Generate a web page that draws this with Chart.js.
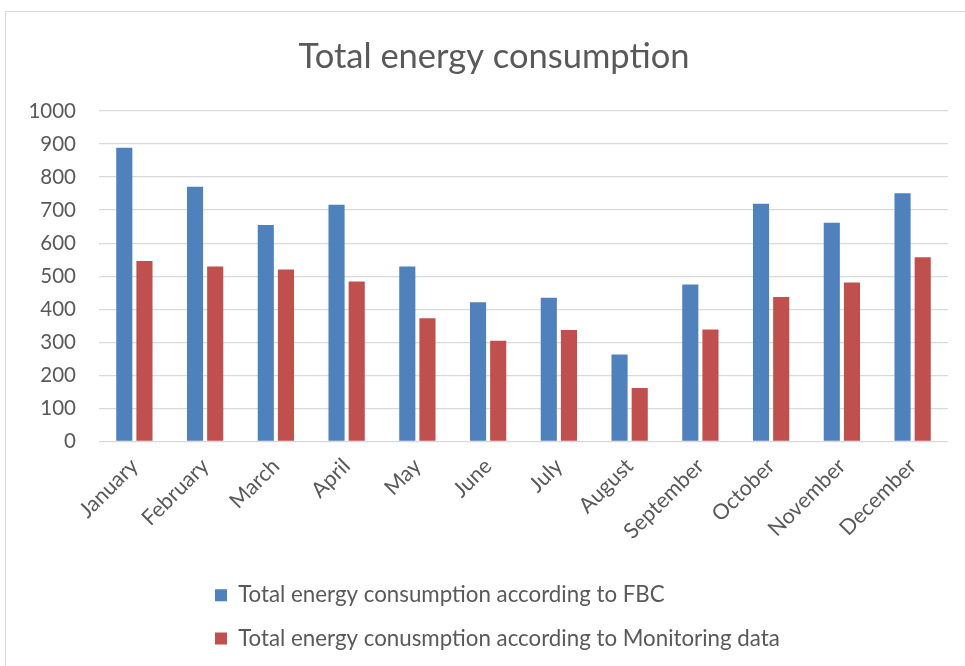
<!DOCTYPE html>
<html>
<head>
<meta charset="utf-8">
<script src="https://cdn.jsdelivr.net/npm/chart.js@4/dist/chart.umd.min.js"></script>
<style>
  html, body { margin: 0; padding: 0; background: #fff; }
  #frame { position: absolute; left: 5px; top: 11px; width: 1000px; height: 700px; border-left: 1.5px solid #d9d9d9; border-top: 1.5px solid #d9d9d9; }
  #wrap { position: absolute; left: 0; top: 0; width: 965px; height: 666px; }
</style>
</head>
<body>
<div id="frame"></div>
<div id="wrap"><canvas id="c" width="965" height="666"></canvas></div>
<script>
const categories = ["January","February","March","April","May","June","July","August","September","October","November","December"];
const fbcValues = [889, 771, 655, 716, 529, 421, 435, 263, 475, 719, 662, 751];
const monitoringValues = [546, 529, 520, 484, 373, 305, 337, 162, 339, 437, 481, 557];
const seriesNames = ["Total energy consumption according to FBC", "Total energy conusmption according to Monitoring data"];
const yTicks = [0,100,200,300,400,500,600,700,800,900,1000];

const FONT = "Lato, 'Open Sans', sans-serif";
const TXT = "#595959";

const blockPlace = {
  id: 'blockPlace',
  afterLayout(chart) {
    const lg = chart.legend;
    if (lg) {
      const dy = 563 - lg.top;
      lg.left = 194;
      lg.top += dy;
      lg.bottom += dy;
    }
    const tb = chart.titleBlock;
    if (tb) {
      tb.left += 20;
      tb.right += 20;
    }
  }
};

new Chart(document.getElementById('c'), {
  type: 'bar',
  data: {
    labels: categories,
    datasets: [
      { label: seriesNames[0], data: fbcValues, backgroundColor: '#4F81BD', borderWidth: 0 },
      { label: seriesNames[1], data: monitoringValues, backgroundColor: '#C0504D', borderWidth: 0 }
    ]
  },
  options: {
    responsive: false,
    animation: false,
    layout: { padding: { left: 0, right: 17, top: 0, bottom: 0 } },
    datasets: { bar: { categoryPercentage: 0.57, barPercentage: 0.8 } },
    plugins: {
      title: {
        display: true,
        text: 'Total energy consumption',
        color: TXT,
        font: { family: FONT, size: 34.5, weight: 'normal' },
        padding: { top: 36.3, bottom: 33.3 }
      },
      legend: {
        display: true,
        position: 'bottom',
        align: 'start',
        labels: {
          color: TXT,
          font: { family: FONT, size: 22.3 },
          boxWidth: 12,
          boxHeight: 12,
          padding: 21
        }
      },
      tooltip: { enabled: false }
    },
    scales: {
      x: {
        grid: { display: false },
        border: { display: false },
        ticks: {
          color: TXT,
          font: { family: FONT, size: 21.5 },
          minRotation: 45,
          maxRotation: 45,
          padding: 4
        },
        afterFit(scale) { scale.height = 128; }
      },
      y: {
        min: 0,
        max: 1000,
        grid: { color: '#d9d9d9', lineWidth: 1.3, drawTicks: false },
        border: { display: false },
        afterBuildTicks(scale) { scale.ticks = yTicks.map(v => ({ value: v })); },
        ticks: {
          color: TXT,
          font: { family: FONT, size: 20.5 },
          padding: 23,
          callback: (v) => String(v)
        },
        afterFit(scale) { scale.width = 99; }
      }
    }
  },
  plugins: [blockPlace]
});
</script>
</body>
</html>
